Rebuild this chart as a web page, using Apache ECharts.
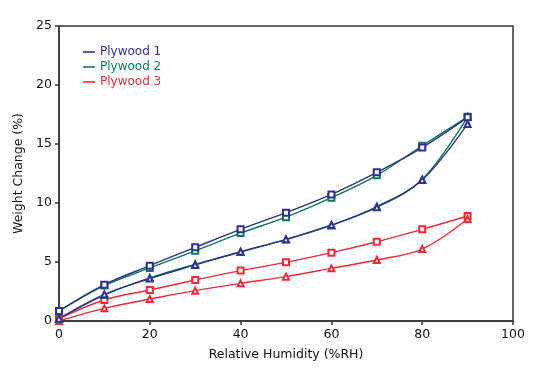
<!DOCTYPE html>
<html>
<head>
<meta charset="utf-8">
<script src="https://cdn.jsdelivr.net/npm/echarts@6/dist/echarts.min.js"></script>
<style>html,body{margin:0;padding:0;background:#fff;}#c{width:547px;height:380px;}</style>
</head>
<body>
<div id="c"></div>
<script>
const rh = [0, 10, 20, 30, 40, 50, 60, 70, 80, 90];
const ply1Desorption = [0.85, 3.08, 4.69, 6.24, 7.77, 9.18, 10.73, 12.6, 14.7, 17.26];
const ply1Adsorption = [0.2, 2.26, 3.6, 4.75, 5.87, 6.92, 8.14, 9.63, 11.95, 16.7];
const ply2Desorption = [0.85, 3.0, 4.5, 5.95, 7.45, 8.8, 10.45, 12.35, 14.85, 17.3];
const ply2Adsorption = [0.2, 2.2, 3.65, 4.8, 5.85, 6.9, 8.1, 9.7, 12.0, 17.3];
const ply3Desorption = [0.2, 1.78, 2.63, 3.47, 4.27, 4.97, 5.79, 6.72, 7.77, 8.9];
const ply3Adsorption = [0.0, 1.07, 1.86, 2.57, 3.19, 3.76, 4.46, 5.17, 6.1, 8.64];
const names = ['Plywood 1', 'Plywood 2', 'Plywood 3'];
const colors = ['#2e3192', '#0b7a5a', '#ee2a36'];

const font = 'DejaVu Sans';
function mk(name, color, data, symbol) {
  return {
    name: name, type: 'line', smooth: 0.35,
    data: rh.map((x, i) => [x, data[i]]),
    symbol: symbol, symbolSize: 6,
    lineStyle: { color: color, width: 1.4 },
    itemStyle: { color: color, borderColor: color, borderWidth: 1.1 },
    emphasis: { disabled: true }
  };
}
const series = [
  mk(names[2], colors[2], ply3Desorption, 'emptyRect'),
  mk(names[2], colors[2], ply3Adsorption, 'emptyTriangle'),
  mk(names[1], colors[1], ply2Desorption, 'emptyRect'),
  mk(names[1], colors[1], ply2Adsorption, 'emptyTriangle'),
  mk(names[0], colors[0], ply1Desorption, 'emptyRect'),
  mk(names[0], colors[0], ply1Adsorption, 'emptyTriangle')
];
const chart = echarts.init(document.getElementById('c'), null, { renderer: 'canvas' });
chart.setOption({
  animation: false,
  backgroundColor: '#fff',
  grid: { left: 59, right: 34, top: 26, bottom: 59, show: true, borderColor: '#333', borderWidth: 1.5, backgroundColor: 'transparent' },
  legend: {
    orient: 'vertical', left: 78, top: 41, itemGap: 3, itemWidth: 12, itemHeight: 1.6,
    icon: 'rect',
    itemStyle: { borderWidth: 0 },
    data: names.map((n, i) => ({ name: n, textStyle: { color: colors[i] } })),
    textStyle: { fontFamily: font, fontSize: 12, padding: [0, 0, 0, 0] }
  },
  xAxis: {
    type: 'value', min: 0, max: 100, interval: 20,
    name: 'Relative Humidity (%RH)', nameLocation: 'middle', nameGap: 27,
    nameTextStyle: { fontFamily: font, fontSize: 12.5, color: '#111' },
    axisLine: { show: true, lineStyle: { color: '#333', width: 1.5 } },
    axisTick: { show: true, inside: false, length: 4, lineStyle: { color: '#333', width: 1.5 } },
    axisLabel: { fontFamily: font, fontSize: 12.5, color: '#111', margin: 7 },
    splitLine: { show: false }
  },
  yAxis: {
    type: 'value', min: 0, max: 25, interval: 5,
    name: 'Weight Change (%)', nameLocation: 'middle', nameGap: 34,
    nameTextStyle: { fontFamily: font, fontSize: 12.5, color: '#111' },
    axisLine: { show: true, lineStyle: { color: '#333', width: 1.5 } },
    axisTick: { show: true, inside: false, length: 4, lineStyle: { color: '#333', width: 1.5 } },
    axisLabel: { fontFamily: font, fontSize: 12.5, color: '#111', margin: 7 },
    splitLine: { show: false }
  },
  series: series
});
</script>
</body>
</html>
